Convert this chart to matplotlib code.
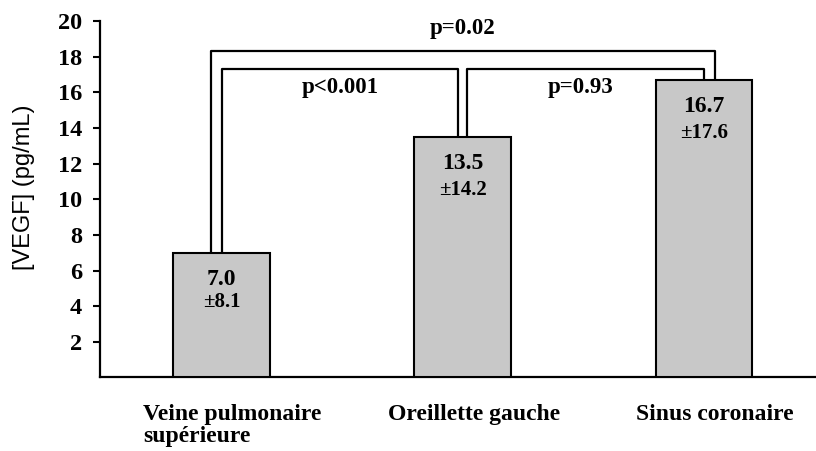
import matplotlib
matplotlib.use('Agg')

import matplotlib.pyplot as plt
import matplotlib.transforms as mtransforms
import numpy as np

categories = ['Veine pulmonaire\nsupérieure', 'Oreillette gauche', 'Sinus coronaire']
means = [7.0, 13.5, 16.7]
sds = [8.1, 14.2, 17.6]
yticks = [2, 4, 6, 8, 10, 12, 14, 16, 18, 20]

# comparisons: (bar a, bar b, bracket height, p label)
comparisons = [
    (0, 1, 17.3, 'p<0.001'),
    (1, 2, 17.3, 'p=0.93'),
    (0, 2, 18.35, 'p=0.02'),
]

serif = ['Liberation Serif', 'DejaVu Serif']
sans = ['Liberation Sans', 'DejaVu Sans']

fig = plt.figure(figsize=(8.16, 4.51), dpi=100)
ax = fig.add_axes([0.1225, 0.163, 0.876, 0.79])

x = np.arange(len(categories))
ax.bar(x, means, width=0.40, color='#c8c8c8', edgecolor='black', linewidth=1.5, zorder=3)

# value labels inside bars
gaps = [1.25, 1.45, 1.5]
for xi, m, s, g in zip(x, means, sds, gaps):
    ax.text(xi, m - 1.5, '%.1f' % m, ha='center', va='center',
            family=serif, fontweight='bold', fontsize=17)
    ax.text(xi, m - 1.5 - g, '\u00b1%.1f' % s, ha='center', va='center',
            family=serif, fontweight='bold', fontsize=15)

# significance brackets
for a, b, h, lab in comparisons:
    if b - a == 1:
        xa, xb = a + 0.0, b - 0.02
        if a == 1:
            xa, xb = a + 0.02, b + 0.0
        ty = h - 1.0
    else:
        xa, xb = a - 0.045, b + 0.045
        ty = h + 1.25
    ax.plot([xa, xa, xb, xb], [means[a], h, h, means[b]], color='black', lw=1.6, zorder=2)
    tx = (a + b) / 2
    if b - a == 1:
        tx = (a + b) / 2 - 0.01
    ax.text(tx, ty, lab, ha='center', va='center',
            family=serif, fontweight='bold', fontsize=16.5)

ax.set_xlim(-0.504, 2.46)
ax.set_ylim(0, 20)
ax.set_yticks(yticks)
ax.set_yticklabels([str(t) for t in yticks], family=serif, fontweight='bold', fontsize=17.5)
ax.set_xticks(x)
ax.set_xticklabels(categories, family=serif, fontweight='bold', fontsize=17,
                   linespacing=1.1, multialignment='left')
ax.tick_params(axis='x', length=0, pad=19)
ax.tick_params(axis='y', direction='out', length=5, width=1.5, pad=8)

offset = mtransforms.ScaledTranslation(0.11, 0, fig.dpi_scale_trans)
for lbl in ax.get_xticklabels():
    lbl.set_transform(lbl.get_transform() + offset)

ax.spines['top'].set_visible(False)
ax.spines['right'].set_visible(False)
ax.spines['left'].set_linewidth(1.6)
ax.spines['bottom'].set_linewidth(1.6)

ax.set_ylabel('[VEGF] (pg/mL)', family=sans, fontsize=17)
ax.yaxis.set_label_coords(-0.091, 0.534)

plt.savefig('out.png', dpi=100)
